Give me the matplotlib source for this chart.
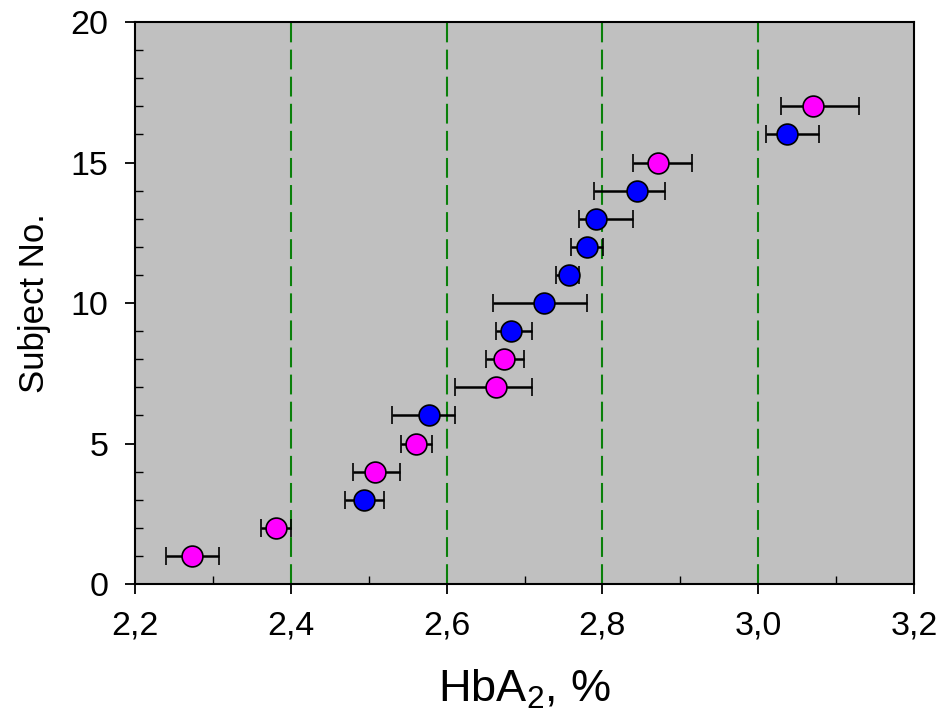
import matplotlib.pyplot as plt
import numpy as np

plt.rcParams['font.family'] = ['Liberation Sans', 'DejaVu Sans']
plt.rcParams['mathtext.default'] = 'regular'

# subject number, HbA2 (%), lower / upper error, group
subject = [1, 2, 3, 4, 5, 6, 7, 8, 9, 10, 11, 12, 13, 14, 15, 16, 17]
hba2 = [2.273, 2.381, 2.494, 2.508, 2.561, 2.577, 2.664, 2.674, 2.683, 2.725,
        2.757, 2.780, 2.792, 2.844, 2.871, 3.037, 3.070]
err_lo = [0.033, 0.019, 0.024, 0.028, 0.020, 0.047, 0.053, 0.023, 0.020, 0.065,
          0.017, 0.020, 0.022, 0.055, 0.032, 0.027, 0.041]
err_hi = [0.035, 0.019, 0.026, 0.032, 0.020, 0.034, 0.046, 0.025, 0.027, 0.055,
          0.013, 0.021, 0.047, 0.036, 0.044, 0.041, 0.059]
group = ['m', 'm', 'b', 'm', 'm', 'b', 'm', 'm', 'b', 'b',
         'b', 'b', 'b', 'b', 'm', 'b', 'm']

ref_lines = [2.4, 2.6, 2.8, 3.0]
xticks = [2.2, 2.4, 2.6, 2.8, 3.0, 3.2]
xtick_labels = ["2,2", "2,4", "2,6", "2,8", "3,0", "3,2"]
yticks = [0, 5, 10, 15, 20]

colors = {'m': '#ff00ff', 'b': '#0000ff'}

fig = plt.figure(figsize=(9.42, 7.2), dpi=100)
ax = fig.add_axes([0.1433, 0.1889, 0.827, 0.7805])
ax.set_facecolor('#c0c0c0')

for x in ref_lines:
    ax.axvline(x, color='#0a800a', lw=1.5, dashes=(9.5, 3.5), zorder=1)

subject = np.array(subject)
hba2 = np.array(hba2)
err_lo = np.array(err_lo)
err_hi = np.array(err_hi)
group = np.array(group)

for g in ['m', 'b']:
    sel = group == g
    ax.errorbar(hba2[sel], subject[sel], xerr=[err_lo[sel], err_hi[sel]],
                fmt='o', ms=15, mfc=colors[g], mec='black', mew=1.2,
                ecolor='black', elinewidth=1.8, capsize=6.5, capthick=1.8, zorder=3)

ax.set_xlim(2.2, 3.2)
ax.set_ylim(0, 20)
ax.set_xticks(xticks)
ax.set_xticklabels(xtick_labels)
ax.set_yticks(yticks)
ax.set_xticks(np.arange(2.3, 3.2, 0.2), minor=True)
ax.set_yticks(np.arange(1, 20, 1), minor=True)
ax.tick_params(which='major', direction='out', length=7, width=1.3, labelsize=24.5, pad=12)
ax.tick_params(which='minor', direction='in', length=6, width=1.0)

for s in ax.spines.values():
    s.set_linewidth(1.5)

ax.set_xlabel('HbA$_2$, %', fontsize=32.5, labelpad=19)
ax.set_ylabel('Subject No.', fontsize=25, labelpad=14)

plt.savefig('out.png', dpi=100)
